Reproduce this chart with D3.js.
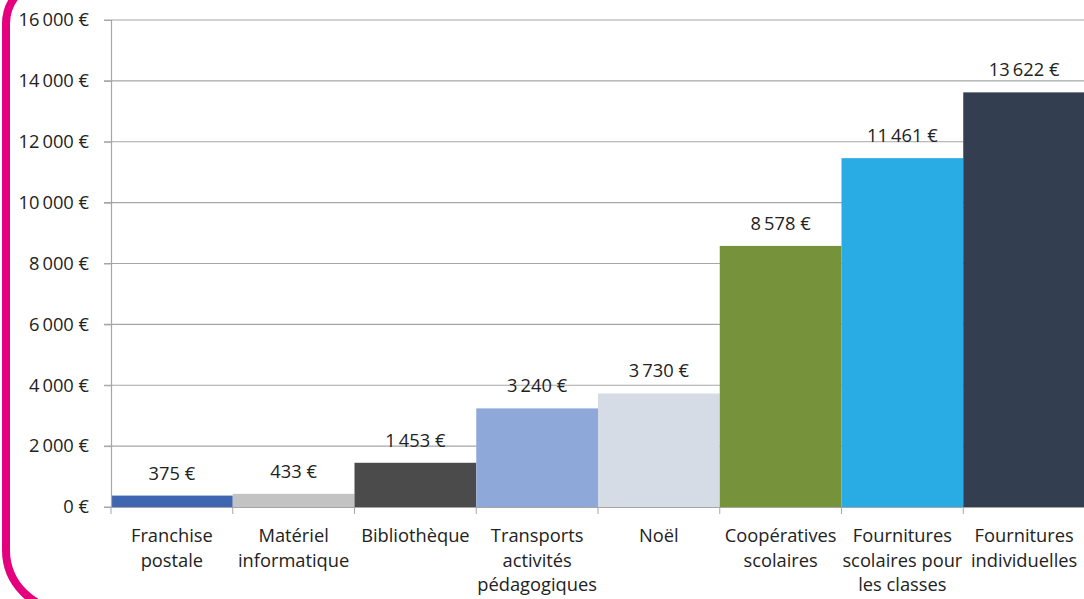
<!DOCTYPE html>
<html>
<head>
<meta charset="utf-8">
<script src="https://cdn.jsdelivr.net/npm/d3@7"></script>
<style>
  body { margin: 0; background: #fff; }
  svg { display: block; font-family: "Open Sans", Lato, sans-serif; }
</style>
</head>
<body>
<div id="chart"></div>
<script>
let categories = ["Franchise postale", "Matériel informatique", "Bibliothèque", "Transports activités pédagogiques",
    "Noël", "Coopératives scolaires", "Fournitures scolaires pour les classes", "Fournitures individuelles"];
let labelLines = [["Franchise", "postale"], ["Matériel", "informatique"], ["Bibliothèque"],
    ["Transports", "activités", "pédagogiques"], ["Noël"], ["Coopératives", "scolaires"],
    ["Fournitures", "scolaires pour", "les classes"], ["Fournitures", "individuelles"]];
let values = [375, 433, 1453, 3240, 3730, 8578, 11461, 13622];
let colors = ["#3F66B1", "#C3C3C3", "#4B4B4B", "#8EA8DA", "#D6DCE5", "#76923B", "#29ACE3", "#333E50"];
let yTicks = [0, 2000, 4000, 6000, 8000, 10000, 12000, 14000, 16000];

let W = 1084, H = 599;
let mLeft = 111, mRight = 1085, mTop = 20, mBottom = 507;
let fontSize = 18.3;

// french style number: 13 622 €
function euro(v) {
    return d3.format(",")(v).replace(/,/g, "\u2009") + "\u00a0€";
}

let svg = d3.select("#chart").append("svg")
    .attr("width", W)
    .attr("height", H);

let xScale = d3.scaleBand().domain(categories).range([mLeft, mRight]).padding(0);
let yScale = d3.scaleLinear().domain([0, 16000]).range([mBottom, mTop]);

// gridlines
svg.append("g")
    .selectAll("line")
    .data(yTicks)
    .join("line")
    .attr("x1", mLeft - 7)
    .attr("x2", W)
    .attr("y1", d => yScale(d))
    .attr("y2", d => yScale(d))
    .attr("stroke", "#A6A6A6")
    .attr("stroke-width", 1.2);

// bars
svg.append("g")
    .selectAll("rect")
    .data(values)
    .join("rect")
    .attr("x", (d, i) => xScale(categories[i]))
    .attr("width", xScale.bandwidth())
    .attr("y", d => yScale(d))
    .attr("height", d => mBottom - yScale(d))
    .attr("fill", (d, i) => colors[i]);

// value labels
svg.append("g")
    .selectAll("text")
    .data(values)
    .join("text")
    .attr("x", (d, i) => xScale(categories[i]) + xScale.bandwidth() / 2)
    .attr("y", d => yScale(d) - 16)
    .attr("text-anchor", "middle")
    .attr("font-size", fontSize)
    .attr("fill", "#222")
    .text(d => euro(d));

// y axis
let yAxis = svg.append("g")
    .attr("transform", `translate(${mLeft},0)`)
    .call(d3.axisLeft(yScale).tickValues(yTicks).tickSize(7).tickPadding(15).tickFormat(euro));
yAxis.select(".domain").attr("stroke", "#A6A6A6").attr("stroke-width", 1.2);
yAxis.selectAll(".tick line").attr("stroke", "#A6A6A6");
yAxis.selectAll(".tick text").attr("font-size", fontSize).attr("fill", "#222")
    .attr("font-family", "'Open Sans', sans-serif");

// x axis
let xAxis = svg.append("g")
    .attr("transform", `translate(0,${mBottom})`)
    .call(d3.axisBottom(xScale).tickSize(0).tickFormat(""));
xAxis.select(".domain").attr("stroke", "#A6A6A6").attr("stroke-width", 1.2);
xAxis.selectAll(".sep")
    .data(d3.range(categories.length + 1))
    .join("line")
    .attr("class", "sep")
    .attr("x1", i => mLeft + i * xScale.step())
    .attr("x2", i => mLeft + i * xScale.step())
    .attr("y1", 0)
    .attr("y2", 7)
    .attr("stroke", "#A6A6A6");

let xl = svg.append("g")
    .selectAll("text")
    .data(categories)
    .join("text")
    .attr("x", d => xScale(d) + xScale.bandwidth() / 2)
    .attr("y", 542)
    .attr("text-anchor", "middle")
    .attr("font-size", fontSize)
    .attr("fill", "#222");
xl.each(function (d, i) {
    d3.select(this).selectAll("tspan")
        .data(labelLines[i])
        .join("tspan")
        .attr("x", xScale(d) + xScale.bandwidth() / 2)
        .attr("dy", (t, j) => j === 0 ? 0 : 24.5)
        .text(t => t);
});

// magenta frame on the left
let r1 = 45, r2 = 60, fx = 6, ft = -21, fb = 610;
svg.append("path")
    .attr("d", `M ${fx + r1 + 200},${ft} L ${fx + r1},${ft} A ${r1} ${r1} 0 0 0 ${fx},${ft + r1}
        L ${fx},${fb - r2} A ${r2} ${r2} 0 0 0 ${fx + r2},${fb} L ${fx + r2 + 200},${fb}`)
    .attr("fill", "none")
    .attr("stroke", "#E5007D")
    .attr("stroke-width", 8);
</script>
</body>
</html>
